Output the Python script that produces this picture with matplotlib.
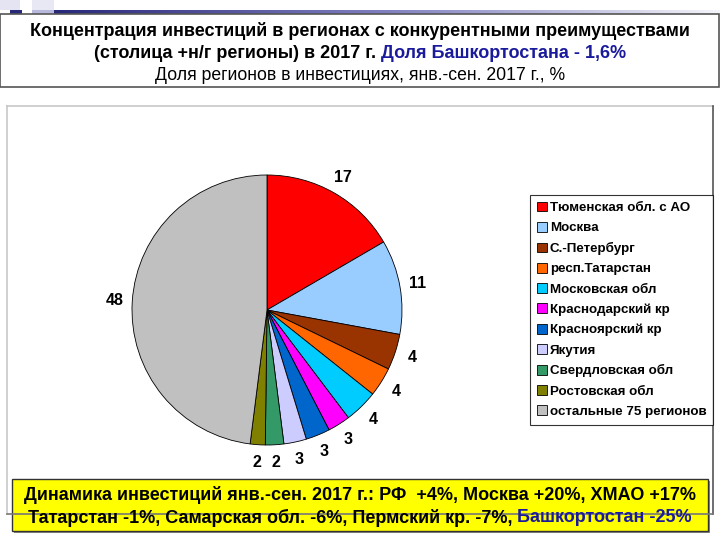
import numpy as np
import matplotlib
matplotlib.use('Agg')
import matplotlib.pyplot as plt
from matplotlib.patches import Rectangle

plt.rcParams['font.family'] = ['Liberation Sans', 'DejaVu Sans']

regions = ['Тюменская обл. с АО', 'Москва', 'С.-Петербург', 'респ.Татарстан',
           'Московская обл', 'Краснодарский кр', 'Красноярский кр', 'Якутия',
           'Свердловская обл', 'Ростовская обл', 'остальные 75 регионов']
shares = [16.6, 11.3, 4.3, 3.5, 4.0, 2.7, 2.9, 2.7, 2.2, 1.8, 48.0]
shown = ['17', '11', '4', '4', '4', '3', '3', '3', '2', '2', '48']
colors = ['#ff0000', '#99ccff', '#993300', '#ff6600', '#00ccff', '#ff00ff',
          '#0066cc', '#ccccff', '#339966', '#808000', '#c0c0c0']

title1 = 'Концентрация инвестиций в регионах с конкурентными преимуществами'
title2a = '(столица +н/г регионы) в 2017 г. '
title2b = 'Доля Башкортостана - 1,6%'
title3 = 'Доля регионов в инвестициях, янв.-сен. 2017 г., %'
note1 = 'Динамика инвестиций янв.-сен. 2017 г.: РФ  +4%, Москва +20%, ХМАО +17%'
note2a = 'Татарстан -1%, Самарская обл. -6%, Пермский кр. -7%, '
note2b = 'Башкортостан -25%'

W, H = 720, 540
BLUE = '#1a1a9c'


def fx(x):
    return x / W


def fy(y):
    return 1 - y / H


def box(x0, y0, x1, y1, **kw):
    return Rectangle((fx(x0), fy(y1)), (x1 - x0) / W, (y1 - y0) / H,
                     transform=fig.transFigure, **kw)


fig = plt.figure(figsize=(7.2, 5.4), dpi=100)
fig.patch.set_facecolor('white')

# decoration at the top
grad = fig.add_axes([fx(54), fy(14), (W - 54) / W, 4 / H])
grad.imshow(np.linspace(0, 1, 256)[None, :], aspect='auto',
            cmap=matplotlib.colors.LinearSegmentedColormap.from_list(
                'g', ['#28287a', '#8080c0', '#f4f4fa']))
grad.axis('off')
fig.patches.append(box(0, 0, 20, 10, facecolor='#e4e4f2', edgecolor='none'))
fig.patches.append(box(10, 10, 22, 14, facecolor='#28287a', edgecolor='none'))
fig.patches.append(box(32, 0, 54, 10, facecolor='#e8e8f4', edgecolor='none'))
fig.patches.append(box(32, 10, 54, 14, facecolor='#b8b8dc', edgecolor='none'))

# title box
fig.patches.append(box(0, 14, 719, 87, facecolor='white', edgecolor='#555555', lw=1.2))
fig.text(0.5, fy(31), title1, ha='center', va='center', fontsize=13, fontweight='bold')
t2a = fig.text(0, fy(53), title2a, ha='left', va='center', fontsize=13, fontweight='bold')
t2b = fig.text(0, fy(53), title2b, ha='left', va='center', fontsize=13,
               fontweight='bold', color=BLUE)
fig.text(0.5, fy(75), title3, ha='center', va='center', fontsize=12.7)

# chart frame
fig.add_artist(plt.Line2D([fx(7), fx(713)], [fy(106), fy(106)], color='#c8c8c8', lw=1.2))
fig.add_artist(plt.Line2D([fx(7), fx(7)], [fy(106), fy(514)], color='#c8c8c8', lw=1.2))
fig.add_artist(plt.Line2D([fx(713), fx(713)], [fy(106), fy(514)], color='#555555', lw=1.2))
fig.add_artist(plt.Line2D([fx(7), fx(713)], [fy(514), fy(514)], color='#777777', lw=1.2))

# pie
cx, cy, r = 267, 310, 135
ax = fig.add_axes([fx(cx - r), fy(cy + r), 2 * r / W, 2 * r / H])
wedges, texts = ax.pie(shares, labels=shown, colors=colors, startangle=90,
                       counterclock=False, labeldistance=1.13,
                       wedgeprops=dict(edgecolor='black', linewidth=0.6),
                       textprops=dict(fontsize=11.5, fontweight='bold'))
for t in texts:
    t.set_ha('center')
    t.set_va('center')
ax.set_xlim(-1, 1)
ax.set_ylim(-1, 1)
ax.set_aspect('equal')

leg = fig.legend(wedges, regions, loc='upper left',
                 bbox_to_anchor=(fx(530), fy(195)), frameon=True, fancybox=False,
                 edgecolor='black', handlelength=0.75,
                 handleheight=0.75, handletextpad=0.25, labelspacing=0.58,
                 borderpad=0.5, borderaxespad=0,
                 prop=dict(weight='bold', size=9.6))
leg.get_frame().set_linewidth(0.8)

# yellow note box
fig.patches.append(box(14, 481, 710, 533, facecolor='#888888', edgecolor='none'))
fig.patches.append(box(12, 479, 708, 531, facecolor='#ffff00', edgecolor='#333333', lw=1))
fig.text(0.5, fy(495), note1, ha='center', va='center', fontsize=13, fontweight='bold')
n2a = fig.text(0, fy(518), note2a, ha='left', va='center', fontsize=13, fontweight='bold')
n2b = fig.text(0, fy(518), note2b, ha='left', va='center', fontsize=13,
               fontweight='bold', color=BLUE)

# center the two-colour lines
rend = fig.canvas.get_renderer()
for a, b in [(t2a, t2b), (n2a, n2b)]:
    wa = a.get_window_extent(rend).width / fig.bbox.width
    wb = b.get_window_extent(rend).width / fig.bbox.width
    x0 = 0.5 - (wa + wb) / 2
    a.set_x(x0)
    b.set_x(x0 + wa)

fig.savefig('out.png', dpi=100)
